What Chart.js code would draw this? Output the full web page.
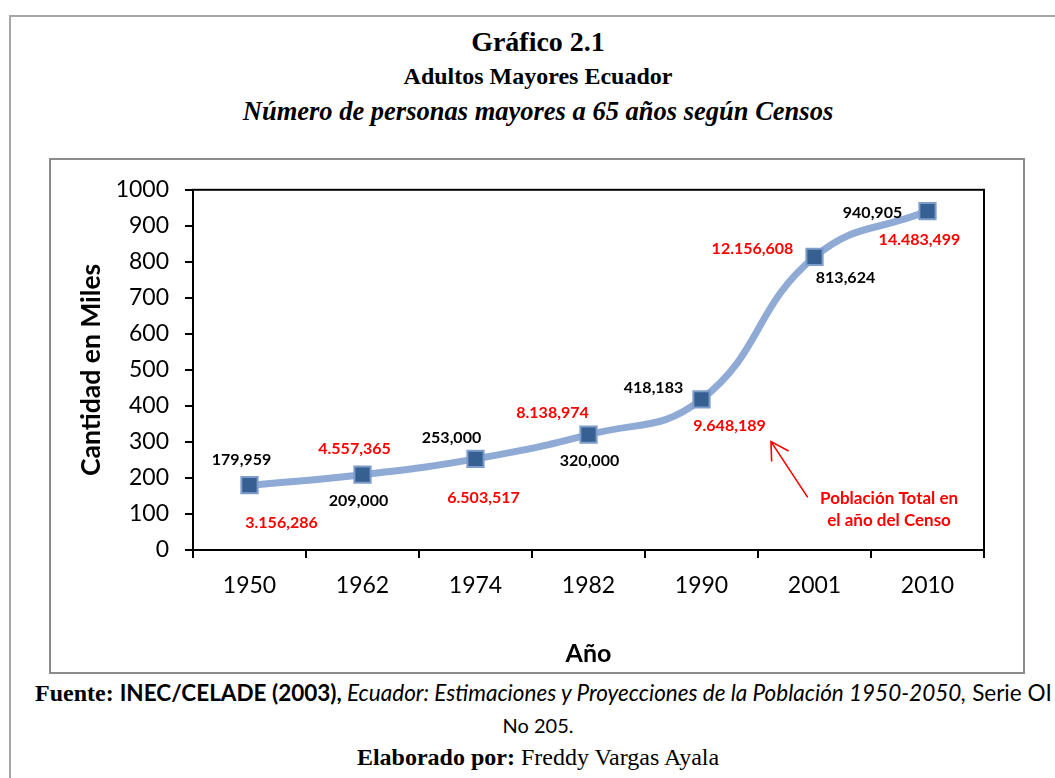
<!DOCTYPE html>
<html>
<head>
<meta charset="utf-8">
<script src="https://cdn.jsdelivr.net/npm/chart.js@4.4.1/dist/chart.umd.min.js"></script>
<style>
  body { margin: 0; background: #fff; width: 1055px; height: 778px; overflow: hidden; position: relative; }
  .frame { position: absolute; left: 9px; top: 15px; width: 1100px; height: 800px; border: 2px solid #a6a6a6; box-sizing: border-box; }
  .box { position: absolute; left: 49px; top: 158px; width: 976px; height: 516px; border: 2px solid #8c8c8c; box-sizing: border-box; }
  .line { position: absolute; left: 0; width: 1076px; text-align: center; white-space: nowrap; transform: translateY(-50%); line-height: 1; }
  .serif { font-family: "Liberation Serif", "Times New Roman", serif; color: #000; }
  .sans { font-family: Lato, "Open Sans", sans-serif; color: #000; }
  canvas { display: block; }
</style>
</head>
<body>
<div class="frame"></div>

<div class="line serif" style="top:42px; font-size:28px; font-weight:bold;">Gráfico 2.1</div>
<div class="line serif" style="top:76px; font-size:24px; font-weight:bold;">Adultos Mayores Ecuador</div>
<div class="line serif" style="top:111px; font-size:26.5px; font-weight:bold; font-style:italic;">Número de personas mayores a 65 años según Censos</div>

<div class="box"><canvas id="myChart" width="972" height="512"></canvas></div>

<div class="line" style="top:693px; left:35px; width:auto; text-align:left;">
  <span class="serif" style="font-size:24px; font-weight:bold;">Fuente: </span><span class="sans" style="font-size:22.5px; font-weight:bold;">INEC/CELADE (2003),</span><span class="sans" style="font-size:22.5px; font-style:italic;"> Ecuador: Estimaciones y Proyecciones de la Población 1950-2050,</span><span class="sans" style="font-size:22.5px;"> Serie OI</span>
</div>
<div class="line sans" style="top:725px; font-size:20px;">No 205.</div>
<div class="line" style="top:757px;"><span class="serif" style="font-size:24px; font-weight:bold;">Elaborado por:</span><span class="serif" style="font-size:24px;"> Freddy Vargas Ayala</span></div>

<script>
/*=============== DATA ===============*/
const years = ["1950", "1962", "1974", "1982", "1990", "2001", "2010"];
const adultosMayores = [179.959, 209.0, 253.0, 320.0, 418.183, 813.624, 940.905];
const adultosLabels = ["179,959", "209,000", "253,000", "320,000", "418,183", "813,624", "940,905"];
const poblacionTotal = ["3.156,286", "4.557,365", "6.503,517", "8.138,974", "9.648,189", "12.156,608", "14.483,499"];
const yMin = 0;
const yMax = 1000;
const yStep = 100;

// label offsets from each marker (px)
const blackOffsets = [[-8, -25], [-4, 26], [-24, -21], [1, 26], [-48, -12], [31, 21], [-55, 2]];
const redOffsets = [[32, 38], [-8, -26], [8, 39], [-36, -22], [28, 26], [-62, -8], [-8, 29]];

// note "Población Total en el año del Censo" in data units (category index, value)
const noteLines = ["Población Total en", "el año del Censo"];
const noteAt = [[5.66, 144], [5.66, 83]];
const arrowFrom = [4.94, 146];
const arrowTo = [4.615, 301];

const FONT = "Lato, 'Open Sans', sans-serif";

/*=============== PLUGINS ===============*/
const plotFrame = {
  id: "plotFrame",
  beforeDatasetsDraw(chart) {
    const { ctx, chartArea: a } = chart;
    ctx.save();
    ctx.strokeStyle = "#000";
    ctx.lineWidth = 2;
    ctx.strokeRect(a.left, a.top, a.right - a.left, a.bottom - a.top);
    ctx.restore();
  },
};

const pointLabels = {
  id: "pointLabels",
  afterDatasetsDraw(chart) {
    const { ctx } = chart;
    const pts = chart.getDatasetMeta(0).data;
    ctx.save();
    ctx.font = "bold 16px " + FONT;
    ctx.textAlign = "center";
    ctx.textBaseline = "middle";
    pts.forEach((p, i) => {
      ctx.fillStyle = "#000";
      ctx.fillText(adultosLabels[i], p.x + blackOffsets[i][0], p.y + blackOffsets[i][1]);
      ctx.fillStyle = "#ff0000";
      ctx.fillText(poblacionTotal[i], p.x + redOffsets[i][0], p.y + redOffsets[i][1]);
    });

    // note + arrow
    const xs = chart.scales.x, ys = chart.scales.y;
    const px = (v) => xs.getPixelForValue(0) + v * (xs.getPixelForValue(1) - xs.getPixelForValue(0));
    ctx.font = "bold 17px " + FONT;
    noteLines.forEach((t, i) => ctx.fillText(t, px(noteAt[i][0]), ys.getPixelForValue(noteAt[i][1])));

    const x0 = px(arrowFrom[0]), y0 = ys.getPixelForValue(arrowFrom[1]);
    const x1 = px(arrowTo[0]), y1 = ys.getPixelForValue(arrowTo[1]);
    const ang = Math.atan2(y0 - y1, x0 - x1);
    const head = 20;
    ctx.strokeStyle = "#ff0000";
    ctx.lineWidth = 1.6;
    ctx.beginPath();
    ctx.moveTo(x0, y0);
    ctx.lineTo(x1, y1);
    ctx.moveTo(x1 + head * Math.cos(ang + 0.55), y1 + head * Math.sin(ang + 0.55));
    ctx.lineTo(x1, y1);
    ctx.lineTo(x1 + head * Math.cos(ang - 0.5), y1 + head * Math.sin(ang - 0.5));
    ctx.stroke();
    ctx.restore();
  },
};

/*=============== CHART ===============*/
const ctx = document.getElementById("myChart").getContext("2d");
const myChart = new Chart(ctx, {
  type: "line",
  data: {
    labels: years,
    datasets: [
      {
        label: "Adultos Mayores",
        data: adultosMayores,
        borderColor: "#8eaad5",
        borderWidth: 7,
        tension: 0.45,
        pointStyle: "rect",
        pointRadius: 11.5,
        pointBackgroundColor: "#376092",
        pointBorderColor: "#7e9ccb",
        pointBorderWidth: 2,
        clip: false,
      },
    ],
  },
  options: {
    responsive: false,
    animation: false,
    layout: { padding: { left: 0, right: 39, top: 28, bottom: 0 } },
    plugins: {
      legend: { display: false },
      tooltip: { enabled: false },
    },
    scales: {
      x: {
        type: "category",
        offset: true,
        grid: { display: true, drawOnChartArea: false, drawTicks: true, tickLength: 8, color: "#000", lineWidth: 2, offset: true },
        border: { display: true, color: "#000", width: 2 },
        ticks: { color: "#000", font: { family: FONT, size: 23 }, padding: 14, maxRotation: 0 },
        title: { display: true, text: "Año", color: "#000", font: { family: FONT, size: 25, weight: "bold" }, padding: { top: 0, bottom: 3 } },
        afterFit(s) { s.height = 122; },
      },
      y: {
        min: yMin,
        max: yMax,
        ticks: { stepSize: yStep, color: "#000", font: { family: FONT, size: 23 }, padding: 16, callback: (v) => String(v) },
        grid: { display: true, drawOnChartArea: false, drawTicks: true, tickLength: 8, color: "#000", lineWidth: 2 },
        border: { display: true, color: "#000", width: 2 },
        title: { display: true, text: "Cantidad en Miles", color: "#000", font: { family: FONT, size: 26.5, weight: "bold" }, padding: { top: 25, bottom: 0 } },
        afterFit(s) { s.width = 142; },
      },
    },
  },
  plugins: [plotFrame, pointLabels],
});
</script>
</body>
</html>
